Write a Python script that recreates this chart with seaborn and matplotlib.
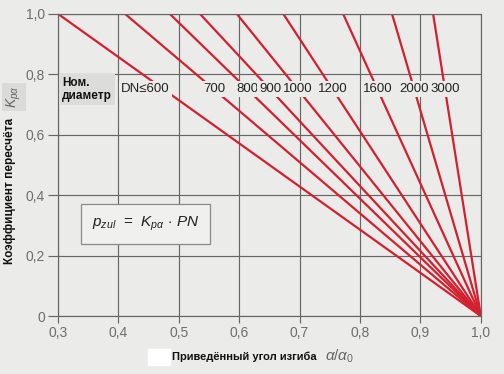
import matplotlib
matplotlib.use("Agg")
import matplotlib.pyplot as plt
import seaborn as sns
import numpy as np
import pandas as pd

# Данные: где каждая линия выходит на K=1,0
dn_labels = ["DN\u2264600", "700", "800", "900", "1000", "1200", "1600", "2000", "3000"]
top_x = [0.30, 0.411, 0.485, 0.535, 0.596, 0.673, 0.772, 0.853, 0.921]
end_x = 1.0
x_ticks = [0.3, 0.4, 0.5, 0.6, 0.7, 0.8, 0.9, 1.0]
x_tick_labels = ["0,3", "0,4", "0,5", "0,6", "0,7", "0,8", "0,9", "1,0"]
y_ticks = [0.0, 0.2, 0.4, 0.6, 0.8, 1.0]
y_tick_labels = ["0", "0,2", "0,4", "0,6", "0,8", "1,0"]
label_y = 0.75

paper = "#ebebea"
grid_c = "#666666"
red = "#d3202f"

sns.set_theme(style="whitegrid", rc={
    "axes.facecolor": paper,
    "figure.facecolor": paper,
    "grid.color": grid_c,
    "grid.linewidth": 0.85,
    "axes.edgecolor": grid_c,
    "axes.linewidth": 0.85,
})
plt.rcParams["font.family"] = ["Liberation Sans", "DejaVu Sans"]
plt.rcParams["mathtext.fontset"] = "custom"
plt.rcParams["mathtext.it"] = "Liberation Sans:italic"
plt.rcParams["mathtext.rm"] = "Liberation Sans"

# длинная таблица для seaborn
rows = []
for lab, tx in zip(dn_labels, top_x):
    rows.append({"DN": lab, "x": tx, "K": 1.0})
    rows.append({"DN": lab, "x": end_x, "K": 0.0})
df = pd.DataFrame(rows)

fig = plt.figure(figsize=(5.04, 3.74), dpi=100)
ax = fig.add_axes([0.115, 0.155, 0.839, 0.808])

sns.lineplot(data=df, x="x", y="K", hue="DN", palette=[red] * len(dn_labels),
             linewidth=1.6, legend=False, ax=ax, sort=False, estimator=None)

ax.set_xlim(0.3, 1.0)
ax.set_ylim(0.0, 1.0)
ax.set_xticks(x_ticks)
ax.set_xticklabels(x_tick_labels)
ax.set_yticks(y_ticks)
ax.set_yticklabels(y_tick_labels)
ax.tick_params(axis="y", length=7.5, width=0.85, color=grid_c, pad=2,
               labelsize=10, labelcolor="#6e6e6e", left=True)
ax.tick_params(axis="x", length=5, width=0.85, color=grid_c, pad=2,
               labelsize=10, labelcolor="#6e6e6e", bottom=True)
ax.set_xlabel("")
ax.set_ylabel("")
ax.grid(True)

# подписи DN на линиях
for i, (lab, tx) in enumerate(zip(dn_labels, top_x)):
    xc = end_x - label_y * (end_x - tx)
    if i == 0:
        ax.text(xc + 0.01, label_y, lab, ha="right", va="center", fontsize=9.5,
                color="#222222", zorder=5,
                bbox=dict(facecolor=paper, edgecolor="none", pad=1.5))
    else:
        ax.text(xc, label_y, lab, ha="center", va="center", fontsize=9.5,
                color="#222222", zorder=5,
                bbox=dict(facecolor=paper, edgecolor="none", pad=1.5))

ax.text(0.307, label_y, "Ном.\nдиаметр", ha="left", va="center", fontsize=8.5,
        fontweight="bold", color="#111111", linespacing=1.1, zorder=5,
        bbox=dict(facecolor="#dcdcdb", edgecolor="none", pad=2))

ax.text(0.445, 0.305, r"$p_{zul}$  =  $K_{p\alpha}$ $\cdot$ $PN$", ha="center",
        va="center", fontsize=11, color="#222222", zorder=5,
        bbox=dict(facecolor="#f0f0ef", edgecolor="#8a8a8a", linewidth=0.9,
                  boxstyle="square,pad=0.7"))

# подписи осей
fig.text(0.020, 0.49, "Коэффициент пересчёта", rotation=90, ha="center",
         va="center", fontsize=8.5, fontweight="bold", color="#111111")
fig.text(0.028, 0.74, r"$K_{p\alpha}$", rotation=90, ha="center", va="center",
         fontsize=10, color="#666666",
         bbox=dict(facecolor="#dadad9", edgecolor="none", pad=2))
fig.patches.append(plt.Rectangle((0.293, 0.025), 0.045, 0.042, color="white",
                                 transform=fig.transFigure, zorder=0))
fig.text(0.341, 0.046, "Приведённый угол изгиба", ha="left", va="center",
         fontsize=8, fontweight="bold", color="#111111")
fig.text(0.645, 0.046, r"$\alpha/\alpha_0$", ha="left", va="center",
         fontsize=11, color="#666666")

fig.savefig("out.png", dpi=100)
